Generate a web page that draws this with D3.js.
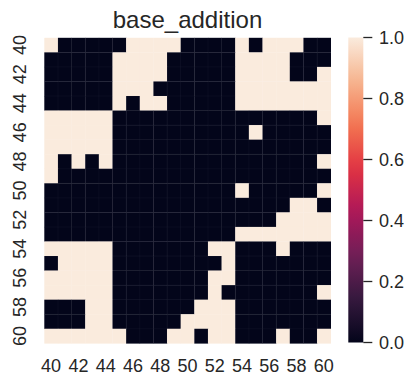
<!DOCTYPE html>
<html>
<head>
<meta charset="utf-8">
<script src="https://cdn.jsdelivr.net/npm/d3@7"></script>
<style>
  body { margin: 0; background: #fff; }
  text { font-family: "Liberation Sans", Arial, sans-serif; fill: #262626; }
</style>
</head>
<body>
<svg id="chart" width="415" height="388"></svg>
<script>
// axis values (rows and columns both run 40..60)
let rowLabels = d3.range(40, 61)
let colLabels = d3.range(40, 61)
let tickLabels = d3.range(40, 61, 2)
let cbarTicks = [0.0, 0.2, 0.4, 0.6, 0.8, 1.0]

// cell values, one array per row (1 = light, 0 = dark)
let grid = [
  [1,0,0,0,0,0,1,1,1,1,0,0,0,0,1,0,1,1,1,0,0],
  [0,0,0,0,0,1,1,1,1,0,0,0,0,0,1,1,1,1,0,0,0],
  [0,0,0,0,0,1,1,1,1,0,0,0,0,0,1,1,1,1,0,0,1],
  [0,0,0,0,0,1,1,1,0,0,0,0,0,0,1,1,1,1,1,1,1],
  [0,0,0,0,0,1,0,1,1,0,0,0,0,0,1,1,1,1,1,1,1],
  [1,1,1,1,1,0,0,0,0,0,0,0,0,0,0,0,0,0,0,0,1],
  [1,1,1,1,1,0,0,0,0,0,0,0,0,0,0,1,0,0,0,0,0],
  [1,1,1,1,1,0,0,0,0,0,0,0,0,0,0,0,0,0,0,0,0],
  [1,0,1,0,1,0,0,0,0,0,0,0,0,0,0,0,0,0,0,0,1],
  [1,0,0,0,0,0,0,0,0,0,0,0,0,0,0,0,0,0,0,0,0],
  [0,0,0,0,0,0,0,0,0,0,0,0,0,0,1,0,0,0,0,0,1],
  [0,0,0,0,0,0,0,0,0,0,0,0,0,0,0,0,0,0,1,1,0],
  [0,0,0,0,0,0,0,0,0,0,0,0,0,0,0,0,0,1,1,1,1],
  [0,0,0,0,0,0,0,0,0,0,0,0,0,0,1,1,1,1,1,1,1],
  [1,1,1,1,1,0,0,0,0,0,0,0,1,1,0,0,0,1,0,0,0],
  [0,1,1,1,1,0,0,0,0,0,0,0,0,1,0,0,0,0,0,0,0],
  [1,1,1,1,1,0,0,0,0,0,0,0,1,1,0,0,0,0,0,0,0],
  [1,1,1,1,1,0,0,0,0,0,0,0,1,0,0,0,0,0,0,0,1],
  [0,0,0,1,1,0,0,0,0,0,0,1,1,1,0,0,0,0,0,0,0],
  [0,0,0,1,1,0,0,0,0,0,1,1,1,1,0,0,0,0,0,0,0],
  [1,1,1,1,1,1,0,0,0,1,1,0,1,1,0,0,0,1,0,0,1]
]

// seaborn "rocket"
let rocketStops = ['#03051a', '#35193e', '#701f57', '#ad1759', '#e13342', '#f37651', '#f6b48f', '#faebdd']

let mLeft = 44.3, mRight = 330.7, mTop = 37.8, mBottom = 343.3
let cbLeft = 348.3, cbWidth = 15, cbTop = 37.5, cbBottom = 342.5
let fs = 18

let svg = d3.select('#chart')

let color = d3.scaleLinear()
    .domain(d3.range(rocketStops.length).map(i => i / (rocketStops.length - 1)))
    .range(rocketStops)
    .interpolate(d3.interpolateRgb)

let x = d3.scaleBand().domain(colLabels).range([mLeft, mRight])
let y = d3.scaleBand().domain(rowLabels).range([mTop, mBottom])

let cells = []
grid.forEach((row, i) => row.forEach((v, j) => cells.push({r: rowLabels[i], c: colLabels[j], v: v})))

svg.append('g').selectAll('rect')
    .data(cells)
    .enter().append('rect')
    .attr('x', d => x(d.c))
    .attr('y', d => y(d.r))
    .attr('width', x.bandwidth() + 0.3)
    .attr('height', y.bandwidth() + 0.3)
    .attr('fill', d => color(d.v))

// faint cell seams like the rasterized mesh
let seams = svg.append('g').attr('stroke', 'rgba(255,255,255,0.07)').attr('stroke-width', 0.6)
colLabels.slice(1).forEach(c => {
    seams.append('line').attr('x1', x(c)).attr('x2', x(c)).attr('y1', mTop).attr('y2', mBottom)
})
rowLabels.slice(1).forEach(r => {
    seams.append('line').attr('y1', y(r)).attr('y2', y(r)).attr('x1', mLeft).attr('x2', mRight)
})

// x ticks
let xAxis = svg.append('g')
tickLabels.forEach(t => {
    xAxis.append('text')
        .attr('x', x(t) + x.bandwidth() / 2)
        .attr('y', 372)
        .attr('text-anchor', 'middle')
        .attr('font-size', fs)
        .text(t)
})

// y ticks, rotated
let yAxis = svg.append('g')
tickLabels.forEach(t => {
    let cy = y(t) + y.bandwidth() / 2
    yAxis.append('text')
        .attr('transform', `translate(25.8,${cy}) rotate(-90)`)
        .attr('text-anchor', 'middle')
        .attr('font-size', fs)
        .text(t)
})

// title
svg.append('text')
    .attr('x', (mLeft + mRight) / 2)
    .attr('y', 28.3)
    .attr('text-anchor', 'middle')
    .attr('font-size', 24)
    .text('base_addition')

// colorbar
let defs = svg.append('defs')
let grad = defs.append('linearGradient')
    .attr('id', 'rocket')
    .attr('x1', 0).attr('y1', 1).attr('x2', 0).attr('y2', 0)
d3.range(0, 1.0001, 0.05).forEach(t => {
    grad.append('stop').attr('offset', t).attr('stop-color', color(t))
})
svg.append('rect')
    .attr('x', cbLeft)
    .attr('y', cbTop)
    .attr('width', cbWidth)
    .attr('height', cbBottom - cbTop)
    .attr('fill', 'url(#rocket)')

let cbScale = d3.scaleLinear().domain([0, 1]).range([cbBottom, cbTop])
let cbAxis = svg.append('g')
cbarTicks.forEach(t => {
    cbAxis.append('line')
        .attr('x1', cbLeft + cbWidth).attr('x2', cbLeft + cbWidth + 9)
        .attr('y1', cbScale(t)).attr('y2', cbScale(t))
        .attr('stroke', '#262626').attr('stroke-width', 1.3)
    cbAxis.append('text')
        .attr('x', 379)
        .attr('y', cbScale(t) + 6.5)
        .attr('font-size', fs)
        .text(t.toFixed(1))
})
</script>
</body>
</html>
